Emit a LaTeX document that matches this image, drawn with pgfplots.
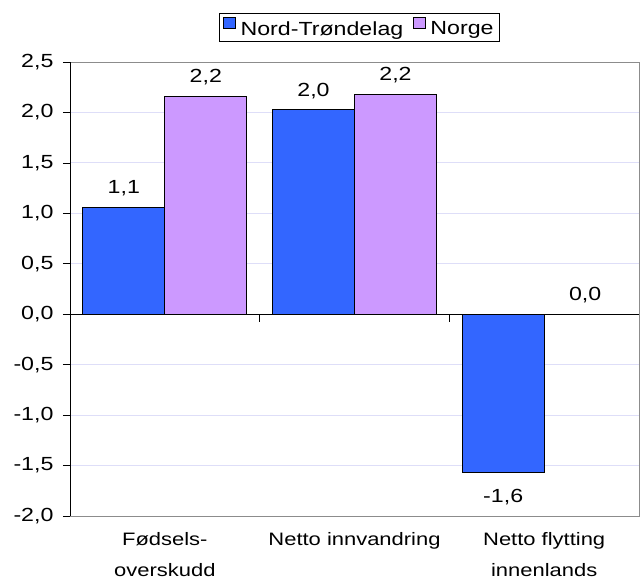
\documentclass[border=0pt]{standalone}
\usepackage{pgfplots}
\pgfplotsset{compat=1.18}
\usepackage{fontspec}
\setmainfont{Liberation Sans}[FakeStretch=1.22]
\definecolor{ntblue}{HTML}{3366FF}
\definecolor{novio}{HTML}{CC99FF}
\definecolor{gridc}{HTML}{DEDEF8}
\definecolor{boxc}{HTML}{8C8C8C}
\begin{document}
\begin{tikzpicture}
\begin{axis}[
  scale only axis, width=569pt, height=454pt,
  xmin=-0.5, xmax=2.5, ymin=-2, ymax=2.5,
  clip=false,
  ybar=0pt, bar width=82pt,
  axis line style={draw=boxc, line width=0.8pt},
  ytick={-2,-1.5,-1,-0.5,0,0.5,1,1.5,2,2.5},
  ytick pos=left,
  ymajorgrids, grid style={gridc, line width=0.8pt},
  xtick={0,1,2},
  xticklabels={Fødsels-\\overskudd, Netto innvandring, Netto flytting\\innenlands},
  xtick style={draw=none},
  ytick style={black, line width=0.7pt},
  tick align=outside, major tick length=7pt,
  xticklabel style={align=center, font=\fontsize{18}{31}\selectfont, yshift=-6pt},
  yticklabel style={font=\fontsize{19}{22}\selectfont, xshift=-6pt},
  nodes near coords,
  every node near coord/.append style={font=\fontsize{19}{22}\selectfont, inner ysep=10pt, text height=20pt, text depth=3pt, black},
  legend style={at={(0.5,1)}, anchor=south, yshift=20pt, xshift=5pt, legend columns=-1,
    draw=black, line width=0.7pt, font=\fontsize{19}{22}\selectfont,
    inner xsep=4pt, inner ysep=3pt,
    /tikz/every odd column/.append style={column sep=3pt},
    /tikz/every even column/.append style={column sep=8pt}},
  legend image code/.code={\draw[#1, draw=black, line width=0.6pt] (0pt,0.5pt) rectangle (11.5pt,12pt);},
  /pgf/number format/use comma,
  /pgf/number format/fixed,
  /pgf/number format/fixed zerofill,
  /pgf/number format/precision=1,
  /pgf/number format/assume math mode=true,
]
\addplot[fill=ntblue, draw=black, line width=0.7pt] coordinates {(0,1.06) (1,2.03) (2,-1.57)};
\addplot[fill=novio, draw=black, line width=0.7pt] coordinates {(0,2.16) (1,2.18) (2,0)};
\legend{Nord-Trøndelag, Norge}
\draw[black, line width=0.8pt] (rel axis cs:0,0) -- (rel axis cs:0,1);
\draw[black, line width=0.8pt] (axis cs:-0.5,0) -- (axis cs:2.5,0);
\draw[black, line width=0.7pt] (axis cs:0.5,0) -- ++(0pt,-8pt);
\draw[black, line width=0.7pt] (axis cs:1.5,0) -- ++(0pt,-8pt);
\path (rel axis cs:0,0) ++(-70pt,-71pt);
\path (rel axis cs:1,1) ++(4pt,62pt);
\end{axis}
\end{tikzpicture}
\end{document}
